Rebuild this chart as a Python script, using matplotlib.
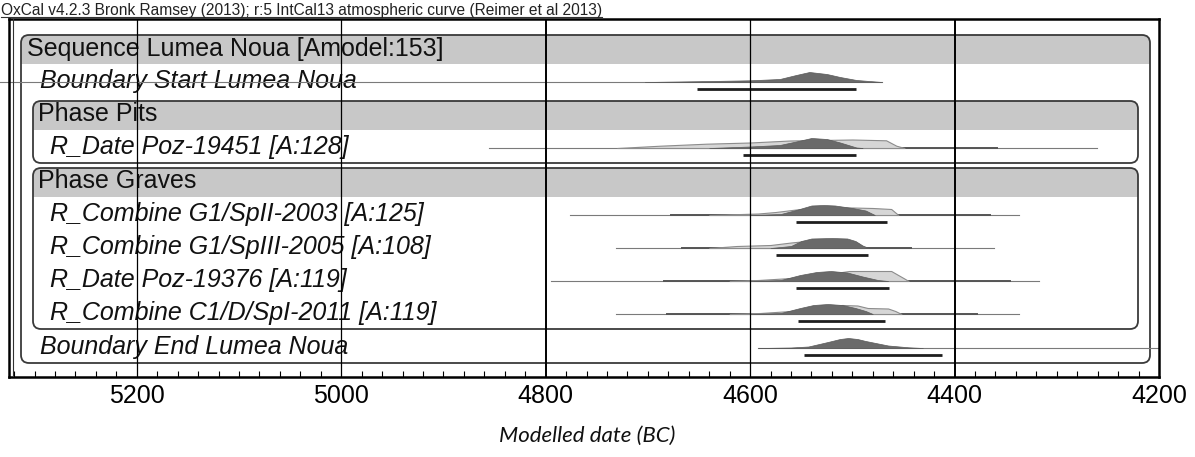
import matplotlib
matplotlib.use('Agg')

import numpy as np
import matplotlib.pyplot as plt
from matplotlib.patches import FancyBboxPatch, Rectangle
from matplotlib.ticker import MultipleLocator

plt.rcParams['font.family'] = ['Liberation Sans', 'DejaVu Sans']

title = 'OxCal v4.2.3 Bronk Ramsey (2013); r:5 IntCal13 atmospheric curve (Reimer et al 2013)'
seq_name = 'Sequence Lumea Noua [Amodel:153]'
phase_names = ['Phase Pits', 'Phase Graves']

item_labels = ['Boundary Start Lumea Noua',
               'R_Date Poz-19451 [A:128]',
               'R_Combine G1/SpII-2003 [A:125]',
               'R_Combine G1/SpIII-2005 [A:108]',
               'R_Date Poz-19376 [A:119]',
               'R_Combine C1/D/SpI-2011 [A:119]',
               'Boundary End Lumea Noua']
item_phase = [None, 0, 1, 1, 1, 1, None]

# posterior (modelled) densities (years BC, relative height)
post_years = [
    [4703, 4650, 4600, 4571, 4555, 4542, 4525, 4512, 4496, 4471],
    [4640, 4600, 4571, 4555, 4540, 4525, 4512, 4496, 4490],
    [4600, 4570, 4555, 4540, 4528, 4517, 4500, 4487, 4478],
    [4580, 4560, 4550, 4540, 4520, 4505, 4497, 4490, 4484],
    [4600, 4570, 4551, 4535, 4521, 4505, 4490, 4475, 4465],
    [4600, 4570, 4551, 4538, 4524, 4510, 4497, 4487, 4480],
    [4592, 4560, 4543, 4524, 4512, 4504, 4495, 4487, 4465, 4445, 4431],
]
post_dens = [
    [0.0, 0.08, 0.17, 0.3, 0.7, 1.0, 0.8, 0.5, 0.2, 0.0],
    [0.0, 0.15, 0.3, 0.65, 1.0, 0.9, 0.55, 0.05, 0.0],
    [0.0, 0.1, 0.5, 0.95, 1.0, 0.95, 0.7, 0.45, 0.0],
    [0.0, 0.2, 0.7, 0.95, 1.0, 0.95, 0.7, 0.25, 0.0],
    [0.0, 0.1, 0.6, 0.9, 1.0, 0.85, 0.45, 0.1, 0.0],
    [0.0, 0.1, 0.6, 0.9, 1.0, 0.9, 0.6, 0.3, 0.0],
    [0.0, 0.05, 0.15, 0.6, 0.9, 1.0, 0.9, 0.7, 0.25, 0.07, 0.0],
]

# unmodelled (prior) densities, light grey
prior_years = [
    None,
    [4730, 4688, 4643, 4600, 4561, 4500, 4467, 4457, 4449],
    [4640, 4592, 4575, 4555, 4530, 4500, 4480, 4462, 4455],
    [4640, 4613, 4580, 4560, 4545, 4504, 4495, 4488],
    [4620, 4592, 4560, 4535, 4510, 4503, 4462, 4450, 4445],
    [4620, 4590, 4560, 4540, 4510, 4495, 4485, 4465, 4458, 4452],
    None,
]
prior_dens = [
    None,
    [0.0, 0.23, 0.43, 0.55, 0.75, 0.85, 0.77, 0.23, 0.0],
    [0.0, 0.15, 0.3, 0.55, 0.75, 0.75, 0.7, 0.6, 0.0],
    [0.0, 0.2, 0.3, 0.55, 0.7, 0.7, 0.5, 0.0],
    [0.0, 0.1, 0.3, 0.6, 0.9, 1.0, 1.0, 0.3, 0.0],
    [0.0, 0.1, 0.3, 0.6, 0.9, 0.85, 0.6, 0.55, 0.3, 0.0],
    None,
]

# extent of the thin tail line and of the darker part of it
tail_from = [5335, 4855, 4776, 4731, 4795, 4731, 4592]
tail_to = [4471, 4261, 4337, 4361, 4317, 4337, 4200]
dark_from = [None, 4688, 4677, 4667, 4684, 4681, None]
dark_to = [None, 4358, 4365, 4443, 4346, 4378, None]

# 95.4% ranges
range_from = [4652, 4607, 4555, 4575, 4555, 4553, 4547]
range_to = [4496, 4496, 4466, 4485, 4464, 4468, 4412]

major_ticks = [5200, 5000, 4800, 4600, 4400, 4200]

W, H = 1195, 457
fig = plt.figure(figsize=(W / 100, H / 100), dpi=100)

# layout axes in pixel units, under the data axes
lay = fig.add_axes([0, 0, 1, 1], zorder=0)
lay.set_xlim(0, W)
lay.set_ylim(H, 0)
lay.axis('off')

ax_left, ax_right, ax_top, ax_bot = 9, 1159, 19, 377
ax = fig.add_axes([ax_left / W, 1 - ax_bot / H, (ax_right - ax_left) / W, (ax_bot - ax_top) / H], zorder=1)
ax.patch.set_alpha(0)
ax.set_xlim(5325, 4200)
ax.set_ylim(ax_bot, ax_top)


def group_box(x0, x1, y0, y1, band):
    shape = 'round,pad=0,rounding_size=8'
    fill = FancyBboxPatch((x0, y0), x1 - x0, y1 - y0, boxstyle=shape,
                          facecolor='#c8c8c8', edgecolor='none')
    lay.add_patch(fill)
    clip = Rectangle((x0, y0), x1 - x0, band, transform=lay.transData)
    fill.set_clip_path(clip)
    lay.add_patch(FancyBboxPatch((x0, y0), x1 - x0, y1 - y0, boxstyle=shape,
                                 facecolor='none', edgecolor='#3a3a3a', lw=1.3))


fs = 18
band_h = 29
row_h = 33
y = 35
seq_top = y
lay.text(27, y + 14, seq_name, fontsize=fs, va='center', ha='left', color='#111111')
y += band_h

phase_box = {}
cur = None
baselines = []
for i, lab in enumerate(item_labels):
    ph = item_phase[i]
    if ph != cur:
        if cur is not None:
            phase_box[cur].append(y)
            y += 1
        if ph is not None:
            y += 4
            phase_box[ph] = [y]
            lay.text(38, y + 13, phase_names[ph], fontsize=fs, va='center', ha='left', color='#111111')
            y += band_h
        cur = ph
    base = y + 18
    baselines.append(base)
    tx = 40 if ph is None else 50
    lay.text(tx, base - 1, lab, fontsize=fs, style='italic', va='center', ha='left', color='#111111')
    y += row_h
seq_bot = y

group_box(21, 1150, seq_top, seq_bot, band_h)
for ph, (t, b) in phase_box.items():
    group_box(33, 1138, t, b, band_h)

# distributions
amp = 10
for i, base in enumerate(baselines):
    ax.plot([tail_from[i], tail_to[i]], [base, base], color='#7a7a7a', lw=0.8,
            clip_on=(i != 0), zorder=2)
    if dark_from[i] is not None:
        ax.plot([dark_from[i], dark_to[i]], [base, base], color='#555555', lw=1.4, zorder=2)
    if prior_years[i] is not None:
        py = np.array(prior_years[i])
        pd = np.array(prior_dens[i])
        ax.fill_between(py, base, base - amp * pd, facecolor='#d6d6d6',
                        edgecolor='#8c8c8c', lw=0.8, zorder=2)
    qy = np.array(post_years[i])
    qd = np.array(post_dens[i])
    ax.fill_between(qy, base, base - amp * qd, facecolor='#6a6a6a',
                    edgecolor='#5a5a5a', lw=0.5, zorder=3)
    ax.plot([range_from[i], range_to[i]], [base + 7, base + 7], color='#1e1e1e',
            lw=2.0, solid_capstyle='butt', zorder=3)

# grid lines through the whole panel
for t in major_ticks[:-1]:
    ax.axvline(t, color='black', lw=1.4 if t in (4800, 4400) else 0.9, zorder=4)
ax.axvline(5321, color='#333333', lw=0.8, zorder=4)

ax.set_xticks(major_ticks)
ax.set_xticklabels([str(t) for t in major_ticks])
ax.xaxis.set_minor_locator(MultipleLocator(20))
ax.tick_params(axis='x', which='major', direction='in', length=0, pad=5, labelsize=18)
ax.tick_params(axis='x', which='minor', direction='in', length=4.5, width=0.8)
ax.set_yticks([])
for s in ax.spines.values():
    s.set_linewidth(1.8)

# title with underline
tt = fig.text(1 / W, 1 - 11 / H, title, fontsize=11.2, va='center', ha='left', color='#222222')
fig.canvas.draw()
bb = tt.get_window_extent()
ul = 1 - 17 / H
fig.add_artist(plt.Line2D([bb.x0 / W, bb.x1 / W], [ul, ul], color='#333333', lw=0.8))

fig.text(587 / W, 1 - 436 / H, 'Modelled date (BC)', fontsize=16, style='italic',
         family=['Lato', 'DejaVu Sans'], ha='center', va='center', color='#111111')

plt.savefig('out.png', dpi=100)
